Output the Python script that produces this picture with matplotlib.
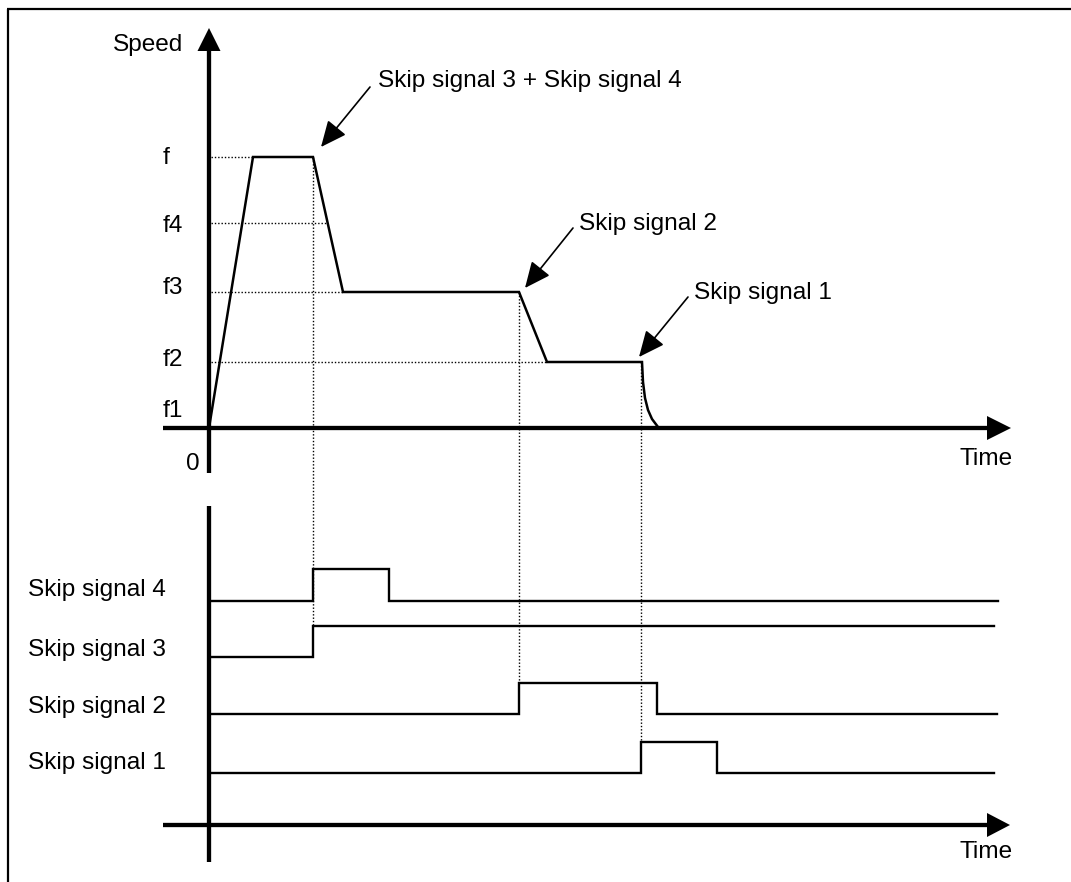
import matplotlib
matplotlib.use("Agg")
import matplotlib.pyplot as plt

plt.rcParams['font.family'] = ['Liberation Sans', 'DejaVu Sans']
FS = 17.6

# ---- data (diagram coordinates: x = time position, y = vertical position in px) ----
level_labels = ['f', 'f4', 'f3', 'f2', 'f1']
level_label_baseline = [164, 232, 294, 366, 417]
level_y = [157, 223, 292, 362]          # f, f4, f3, f2
level_dot_end = [253, 328, 343, 547]    # where dotted guide meets the curve

speed_t = [209, 253, 313, 343, 519, 547, 642, 643, 645, 648, 652, 658]
speed_v = [428, 157, 157, 292, 292, 362, 362, 382, 398, 410, 419, 427]

event_t = [313, 519, 641]
event_top = [157, 292, 362]
event_bottom = [626, 683, 742]

sig_names = ['Skip signal 4', 'Skip signal 3', 'Skip signal 2', 'Skip signal 1']
sig_label_baseline = [596, 656, 713, 769]
sig_low = [601, 657, 714, 773]
sig_high = [569, 626, 683, 742]
sig_rise = [313, 313, 519, 641]
sig_fall = [389, None, 657, 717]
sig_end = [998, 994, 997, 994]

annot_texts = ['Skip signal 3 + Skip signal 4', 'Skip signal 2', 'Skip signal 1']
annot_text_pos = [(378, 87), (579, 230), (694, 299)]
annot_start = [(370, 87), (573, 228), (688, 297)]
annot_tip = [(321, 147), (525, 288), (639, 357)]

# ---- figure ----
fig = plt.figure(figsize=(10.71, 8.82), dpi=100)
ax = fig.add_axes([0, 0, 1, 1])
ax.set_xlim(0, 1071)
ax.set_ylim(882, 0)
ax.axis('off')

# frame (top and left only)
ax.plot([7.5, 7.5], [9, 882], color='black', lw=1.6, solid_capstyle='butt')
ax.plot([7, 1071], [9, 9], color='black', lw=1.6, solid_capstyle='butt')

AX_LW = 3.1

def axis_arrow(start, base, tip, hw):
    ax.plot([start[0], base[0]], [start[1], base[1]], color='black', lw=AX_LW,
            solid_capstyle='butt')
    dx, dy = tip[0] - base[0], tip[1] - base[1]
    L = (dx * dx + dy * dy) ** 0.5
    ux, uy = dx / L, dy / L
    px, py = -uy, ux
    tri = [(tip[0], tip[1]),
           (base[0] + px * hw, base[1] + py * hw),
           (base[0] - px * hw, base[1] - py * hw)]
    ax.add_patch(plt.Polygon(tri, closed=True, color='black', lw=0))

# upper axes
axis_arrow((209, 473), (209, 51), (209, 28), 11.5)
axis_arrow((163, 428), (987, 428), (1011, 428), 12)
# lower axes
ax.plot([209, 209], [506, 862], color='black', lw=AX_LW, solid_capstyle='butt')
axis_arrow((163, 825), (987, 825), (1010, 825), 12)

# dotted guides
dot = dict(color='black', lw=1.0, linestyle=(0, (1, 1.4)))
for y, xe in zip(level_y, level_dot_end):
    ax.plot([211, xe], [y, y], **dot)
for x, yt, yb in zip(event_t, event_top, event_bottom):
    ax.plot([x, x], [yt, yb], **dot)

# speed profile
ax.plot(speed_t, speed_v, color='black', lw=1.8, solid_joinstyle='miter')

# skip signals
for lo, hi, r, f, e in zip(sig_low, sig_high, sig_rise, sig_fall, sig_end):
    if f is None:
        xs = [209, r, r, e]
        ys = [lo, lo, hi, hi]
    else:
        xs = [209, r, r, f, f, e]
        ys = [lo, lo, hi, hi, lo, lo]
    ax.plot(xs, ys, color='black', lw=1.7, solid_joinstyle='miter')

# labels
ax.text(183, 51, 'Speed', fontsize=FS, ha='right', va='baseline')
for lab, yb in zip(level_labels, level_label_baseline):
    ax.text(163, yb, lab, fontsize=FS, ha='left', va='baseline')
ax.text(200, 470, '0', fontsize=FS, ha='right', va='baseline')
ax.text(1013, 465, 'Time', fontsize=FS, ha='right', va='baseline')
ax.text(1013, 858, 'Time', fontsize=FS, ha='right', va='baseline')
for name, yb in zip(sig_names, sig_label_baseline):
    ax.text(28, yb, name, fontsize=FS, ha='left', va='baseline')

# annotations with arrows
for txt, tp, st, tip in zip(annot_texts, annot_text_pos, annot_start, annot_tip):
    ax.text(tp[0], tp[1], txt, fontsize=FS, ha='left', va='baseline')
    ax.annotate('', xy=tip, xytext=st,
                arrowprops=dict(arrowstyle='-|>,head_length=0.8,head_width=0.36',
                                mutation_scale=20, lw=1.2, color='black',
                                shrinkA=0, shrinkB=0))

fig.savefig('out.png', dpi=100)
